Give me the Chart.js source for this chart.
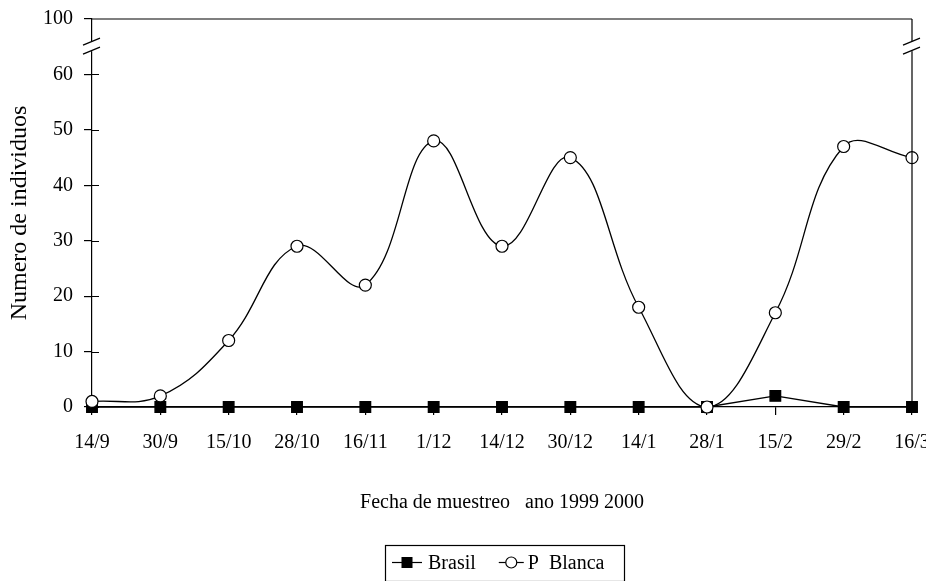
<!DOCTYPE html>
<html><head><meta charset="utf-8">
<script src="https://cdn.jsdelivr.net/npm/chart.js@4/dist/chart.umd.min.js"></script>
<style>html,body{margin:0;padding:0;background:#fff;} canvas{display:block}</style>
</head><body>
<canvas id="c" width="926" height="581"></canvas>
<script>
const categories = ['14/9','30/9','15/10','28/10','16/11','1/12','14/12','30/12','14/1','28/1','15/2','29/2','16/3'];
const brasil = [0,0,0,0,0,0,0,0,0,0,2,0,0];
const pBlanca = [1,2,12,29,22,48,29,45,18,0,17,47,45];
const yTickValues = [0,10,20,30,40,50,60,70];
const yTickLabels = ['0','10','20','30','40','50','60','100'];
const seriesNames = ['Brasil','P  Blanca'];
const xTitle = 'Fecha de muestreo   ano 1999 2000';
const yTitle = 'Numero de individuos';

const FONT = "'Liberation Serif', 'Times New Roman', serif";
Chart.defaults.font.family = FONT;
Chart.defaults.color = '#000';

const axisPlugin = {
  id: 'axisDecor',
  afterDraw(chart) {
    const {ctx, chartArea: {left, right, top, bottom}} = chart;
    const ys = chart.scales.y;
    ctx.save();
    ctx.strokeStyle = '#000';
    ctx.lineWidth = 1.2;
    ctx.beginPath();
    ctx.moveTo(left, top); ctx.lineTo(right, top);
    ctx.moveTo(right, top); ctx.lineTo(right, bottom);
    ctx.stroke();
    ctx.beginPath();
    yTickValues.slice(0, -1).forEach(v => {
      const y = Math.round(ys.getPixelForValue(v)) + 0.5;
      ctx.moveTo(left, y); ctx.lineTo(left + 7, y);
    });
    ctx.stroke();
    const yA = ys.getPixelForValue(66.0), yB = ys.getPixelForValue(64.2);
    [left, right].forEach(x => {
      ctx.fillStyle = '#fff';
      ctx.fillRect(x - 2, yA, 4, yB - yA);
      ctx.beginPath();
      ctx.moveTo(x - 9, yA + 4); ctx.lineTo(x + 8, yA - 3);
      ctx.moveTo(x - 9, yB + 3); ctx.lineTo(x + 8, yB - 4);
      ctx.stroke();
    });
    ctx.restore();
  }
};

const legendPlugin = {
  id: 'boxLegend',
  afterDraw(chart) {
    const ctx = chart.ctx;
    ctx.save();
    ctx.strokeStyle = '#000';
    ctx.lineWidth = 1.2;
    ctx.strokeRect(385.5, 545.5, 239, 36);
    ctx.font = '20px ' + FONT;
    ctx.textBaseline = 'middle';
    ctx.fillStyle = '#000';
    const cy = 562.5;
    let x = 392;
    chart.data.datasets.forEach((ds, i) => {
      const lw = i === 0 ? 30 : 25;
      ctx.beginPath();
      ctx.moveTo(x, cy); ctx.lineTo(x + lw, cy);
      ctx.stroke();
      const mx = x + lw / 2;
      if (ds.pointStyle === 'rect') {
        ctx.fillStyle = '#000';
        ctx.fillRect(mx - 5.5, cy - 5.5, 11, 11);
      } else {
        ctx.beginPath();
        ctx.arc(mx, cy, 5.5, 0, Math.PI * 2);
        ctx.fillStyle = '#fff'; ctx.fill(); ctx.stroke();
      }
      ctx.fillStyle = '#000';
      x += lw + (i === 0 ? 6 : 4);
      ctx.fillText(ds.label, x, cy + 1);
      x += ctx.measureText(ds.label).width + 23;
    });
    ctx.restore();
  }
};

new Chart(document.getElementById('c'), {
  type: 'line',
  data: {
    labels: categories,
    datasets: [
      {
        label: seriesNames[0], data: brasil,
        borderColor: '#000', backgroundColor: '#000', borderWidth: 1.3,
        pointStyle: 'rect', pointRadius: 7.5, pointBackgroundColor: '#000', pointBorderColor: '#000',
        tension: 0, order: 2, clip: false
      },
      {
        label: seriesNames[1], data: pBlanca,
        borderColor: '#000', backgroundColor: '#fff', borderWidth: 1.3,
        pointStyle: 'circle', pointRadius: 6, pointBackgroundColor: '#fff', pointBorderColor: '#000', pointBorderWidth: 1.2,
        tension: 0.4, order: 1, clip: false
      }
    ]
  },
  options: {
    responsive: false,
    animation: false,
    events: [],
    layout: { padding: { top: 19, right: 14, left: 0, bottom: 0 } },
    plugins: { legend: { display: false }, tooltip: { enabled: false } },
    scales: {
      x: {
        type: 'category',
        offset: false,
        grid: { display: true, drawOnChartArea: false, drawTicks: true, tickLength: 8, color: '#000', lineWidth: 1.2 },
        border: { display: true, color: '#000', width: 1.2 },
        ticks: { font: { size: 20 }, padding: 16, maxRotation: 0, autoSkip: false },
        title: { display: true, text: xTitle, font: { size: 20 }, padding: { top: 0, bottom: 66 } },
        afterFit(s) { s.height = 174; s.paddingLeft = 0; s.paddingRight = 0; }
      },
      y: {
        type: 'linear',
        min: 0, max: 70,
        afterBuildTicks(s) { s.ticks = yTickValues.map(v => ({ value: v })); },
        grid: { display: true, drawOnChartArea: false, drawTicks: true, tickLength: 8, color: '#000', lineWidth: 1.2 },
        border: { display: true, color: '#000', width: 1.2 },
        ticks: { font: { size: 20 }, padding: 11, callback: v => yTickLabels[yTickValues.indexOf(v)] },
        title: { display: true, text: yTitle, font: { size: 24 }, padding: { top: 5, bottom: 0 } },
        afterFit(s) { s.width = 92; s.paddingTop = 0; s.paddingBottom = 0; }
      }
    }
  },
  plugins: [axisPlugin, legendPlugin]
});
</script>
</body></html>
